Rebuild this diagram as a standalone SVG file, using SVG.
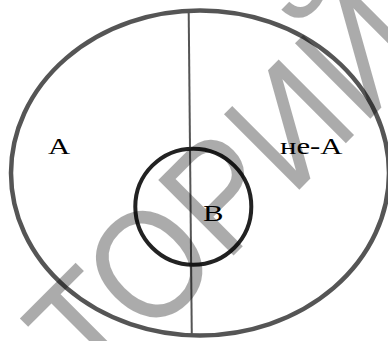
<svg xmlns="http://www.w3.org/2000/svg" width="388" height="341" viewBox="0 0 388 341">
<style>
.lbl{font-family:"Liberation Serif","Times New Roman",serif;font-size:24px;fill:#000}
.wm{font-family:"Liberation Sans",Arial,sans-serif;font-size:155px;fill:#000;fill-opacity:0.33}
</style>
<rect width="388" height="341" fill="#fff"/>
<g id="universe">
<ellipse cx="200" cy="173" rx="189" ry="162.5" fill="none" stroke="#555" stroke-width="4.5"/>
</g>
<g id="connectors">
<line x1="188.7" y1="12" x2="191.8" y2="336" stroke="#555" stroke-width="2"/>
</g>
<g id="B">
<circle cx="193.3" cy="206.7" r="58" fill="none" stroke="#222" stroke-width="4"/>
<text class="lbl" transform="translate(203,221) scale(1.28,1)">B</text>
</g>
<g id="A">
<text class="lbl" transform="translate(48,154) scale(1.28,1)">A</text>
</g>
<g id="notA">
<text class="lbl" transform="translate(280,154) scale(1.28,1)">не-А</text>
</g>
<text class="wm" transform="translate(93,396) rotate(-45) scale(0.9,1)">ТОРИЙ</text>
</svg>
